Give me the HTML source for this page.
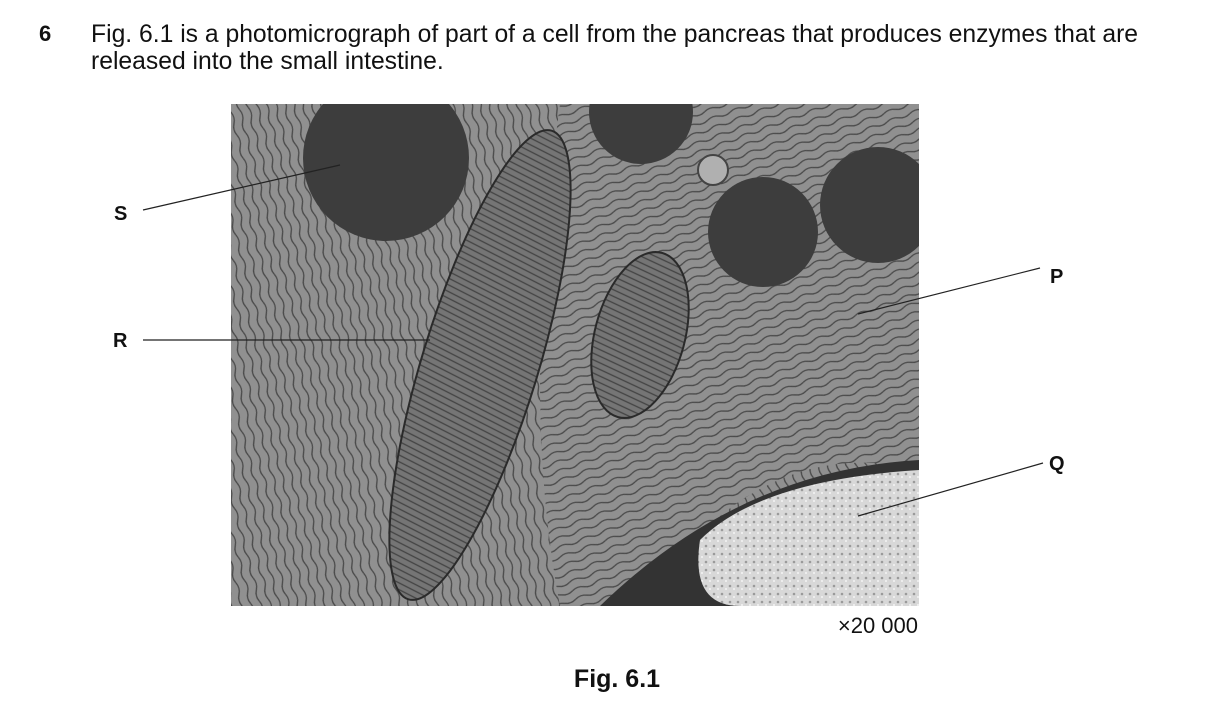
<!DOCTYPE html>
<html><head><meta charset="utf-8"><style>
body{margin:0;background:#fff;width:1219px;height:727px;overflow:hidden;font-family:"Liberation Sans",Arial,sans-serif;}
.t{position:absolute;font-size:24.7px;color:#111;}
</style></head><body>
<div class="t" style="left:39px;top:21px;font-weight:bold;font-size:22px;">6</div>
<div class="t" style="left:91px;top:21px;line-height:27px;">Fig. 6.1 is a photomicrograph of part of a cell from the pancreas that produces enzymes that are<br>released into the small intestine.</div>
<svg width="1219" height="727" style="position:absolute;left:0;top:0">
<defs>
<clipPath id="c"><rect x="231" y="104" width="688" height="502"/></clipPath>
<pattern id="er" width="24" height="9" patternUnits="userSpaceOnUse" patternTransform="rotate(75)">
<rect width="24" height="9" fill="#909090"/>
<path d="M0 4 Q6 1 12 4 T24 4" stroke="#4a4a4a" stroke-width="1.3" fill="none"/>
</pattern>
<pattern id="er2" width="24" height="9" patternUnits="userSpaceOnUse" patternTransform="rotate(-20)">
<rect width="24" height="9" fill="#909090"/>
<path d="M0 4 Q6 1 12 4 T24 4" stroke="#4a4a4a" stroke-width="1.3" fill="none"/>
</pattern>
<pattern id="mito" width="10" height="6" patternUnits="userSpaceOnUse" patternTransform="rotate(10)">
<rect width="10" height="6" fill="#757575"/>
<line x1="0" y1="3" x2="10" y2="3" stroke="#444" stroke-width="1.3"/>
</pattern>
<pattern id="nuc" width="8" height="8" patternUnits="userSpaceOnUse">
<rect width="8" height="8" fill="#d8d8d8"/>
<circle cx="2" cy="2" r="1.3" fill="#9a9a9a"/><circle cx="6" cy="5" r="1" fill="#f4f4f4"/>
</pattern>
</defs>
<g clip-path="url(#c)">
<rect x="231" y="104" width="688" height="502" fill="url(#er)"/>
<path d="M560 104 L919 104 L919 470 Q760 430 640 606 L560 606 Q520 400 560 104Z" fill="url(#er2)"/>
<path d="M919 460 Q740 470 600 606 L919 606Z" fill="#333"/>
<path d="M919 470 Q760 480 700 540 Q690 606 740 606 L919 606Z" fill="url(#nuc)"/>
<ellipse cx="480" cy="365" rx="58" ry="245" transform="rotate(17 480 365)" fill="url(#mito)" stroke="#2a2a2a" stroke-width="2"/>
<ellipse cx="640" cy="335" rx="45" ry="85" transform="rotate(15 640 335)" fill="url(#mito)" stroke="#2a2a2a" stroke-width="2"/>
<circle cx="386" cy="158" r="83" fill="#3d3d3d"/>
<circle cx="641" cy="112" r="52" fill="#3d3d3d"/>
<circle cx="763" cy="232" r="55" fill="#3d3d3d"/>
<circle cx="878" cy="205" r="58" fill="#3d3d3d"/>
<circle cx="713" cy="170" r="15" fill="#b0b0b0" stroke="#444" stroke-width="2"/>
</g>
<g stroke="#222" stroke-width="1.2">
<line x1="143" y1="210" x2="340" y2="165"/>
<line x1="143" y1="340" x2="430" y2="340"/>
<line x1="1040" y1="268" x2="858" y2="314"/>
<line x1="1043" y1="463" x2="858" y2="516"/>
</g>
<g font-family="Liberation Sans, Arial, sans-serif" font-weight="bold" font-size="20" fill="#111">
<text x="114" y="220">S</text>
<text x="113" y="347">R</text>
<text x="1050" y="283">P</text>
<text x="1049" y="470">Q</text>
</g>
<text x="918" y="633" text-anchor="end" font-family="Liberation Sans, Arial, sans-serif" font-size="22" fill="#111">×20 000</text>
<text x="617" y="687" text-anchor="middle" font-family="Liberation Sans, Arial, sans-serif" font-weight="bold" font-size="25" fill="#111">Fig. 6.1</text>
</svg>
</body></html>
